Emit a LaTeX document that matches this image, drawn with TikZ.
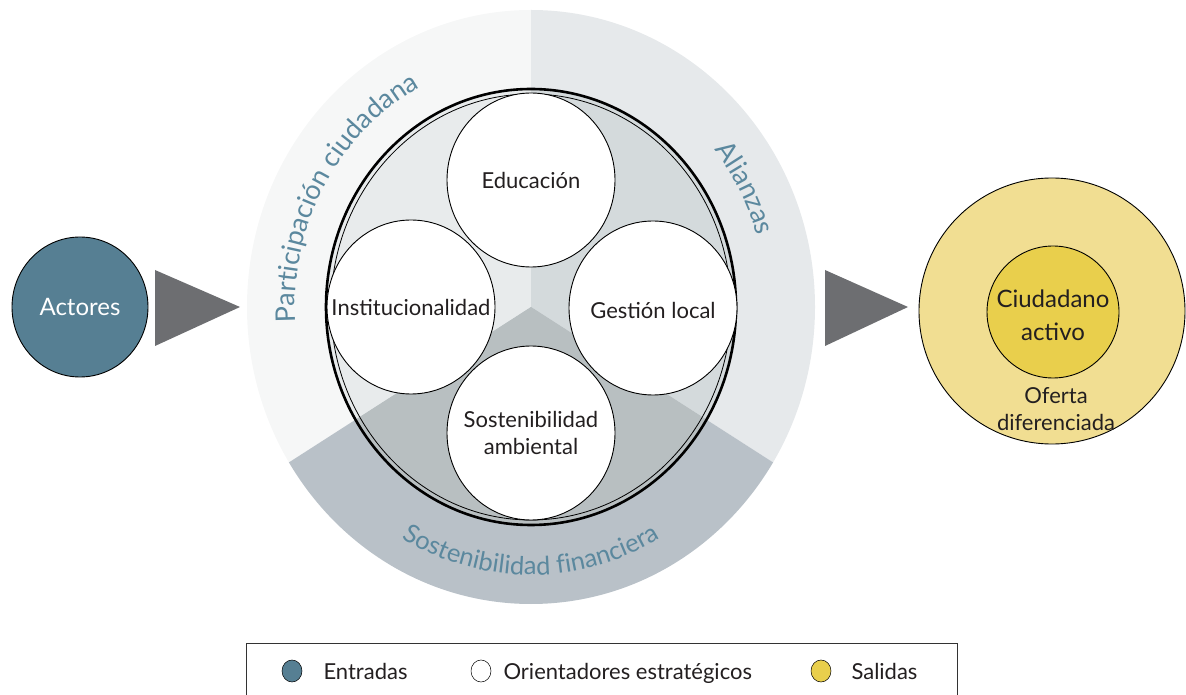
\documentclass[tikz,border=0pt]{standalone}
\usepackage{fontspec}
\setmainfont{Lato}
\usetikzlibrary{shapes.geometric,decorations.text}

\definecolor{actorblue}{HTML}{567F93}
\definecolor{outleft}{HTML}{F6F7F7}
\definecolor{outright}{HTML}{E6E9EB}
\definecolor{outbottom}{HTML}{B9C1C8}
\definecolor{inleft}{HTML}{E8EBEC}
\definecolor{inright}{HTML}{D4DADC}
\definecolor{inbottom}{HTML}{B8BFC1}
\definecolor{arrowgray}{HTML}{6D6E71}
\definecolor{ofertayellow}{HTML}{F1DE92}
\definecolor{ciudyellow}{HTML}{E9CF4C}
\definecolor{ringtext}{HTML}{5B889E}
\definecolor{labeltext}{HTML}{231F20}

\newcommand\diagfont{\fontsize{22}{27}\selectfont}
\newcommand\bigfont{\fontsize{24}{33}\selectfont}
\newcommand\arcfont{\fontsize{27}{30}\selectfont}
\newcommand\arcfontb{\fontsize{25.5}{30}\selectfont}

\tikzset{
  orient/.style={ellipse, draw=black, line width=0.9pt, fill=white, inner sep=0pt,
    minimum width=168, minimum height=174},
  orienttext/.style={align=center, text=labeltext, font=\diagfont, inner sep=0pt},
  legdot/.style={ellipse, draw=black, line width=0.5pt, minimum width=20, minimum height=22, inner sep=0pt},
  legtext/.style={anchor=base west, text=labeltext, font=\diagfont},
  pointer/.style={fill=arrowgray},
  ringlabel/.style={decorate, decoration={text along path, text align=center, text color=ringtext}}
}

\begin{document}
\begin{tikzpicture}[x=1pt,y=1pt]
\useasboundingbox (0,0) rectangle (1186,694); %same frame as the 1186x694 picture

\coordinate (hub) at (531,387);

%Shape: Outer ring, three sectors
\begin{scope}
\clip (hub) ellipse [x radius=284, y radius=297];
\fill [outleft]   (hub) -- +(90:600) -- +(150:600) -- +(212.7:600) -- cycle;
\fill [outright]  (hub) -- +(90:600) -- +(30:600) -- +(327.3:600) -- cycle;
\fill [outbottom] (hub) -- +(212.7:600) -- +(270:600) -- +(327.3:600) -- cycle;
\end{scope}

%Shape: Inner disc, three sectors
\begin{scope}
\clip (hub) ellipse [x radius=205, y radius=218];
\fill [inleft]   (hub) -- +(90:600) -- +(150:600) -- +(212.7:600) -- cycle;
\fill [inright]  (hub) -- +(90:600) -- +(30:600) -- +(327.3:600) -- cycle;
\fill [inbottom] (hub) -- +(212.7:600) -- +(270:600) -- +(327.3:600) -- cycle;
\end{scope}

%Shape: Inner border, thick and thin
\draw [line width=2.6pt] (hub) ellipse [x radius=205, y radius=218];
\draw [line width=0.8pt] (hub) ellipse [x radius=200, y radius=213];

%Shape: Orientadores
\node [orient] (educacion) at (531,514) {};
\node [orient] (institucion) at (411,387) {};
\node [orient] (gestion) at (653,386) {};
\node [orient] (ambiental) at (531,261) {};
% Text Node
\node [orienttext] (educaciontext) at (educacion.center) {Educación};
\node [orienttext] (instituciontext) at (institucion.center) {Institucionalidad};
\node [orienttext] (gestiontext) at ([yshift=-2]gestion.center) {Gestión local};
\node [orienttext] (ambientaltext) at (ambiental.center) {Sostenibilidad\\ambiental};

% Curved Text
\path [ringlabel, decoration={text={|\arcfont|Participación ciudadana}}]
  (hub) ++(196:236 and 249) arc [start angle=196, end angle=105, x radius=236, y radius=249];
\path [ringlabel, decoration={text={|\arcfont|Alianzas}}]
  (hub) ++(52:236 and 249) arc [start angle=52, end angle=4, x radius=236, y radius=249];
\path [ringlabel, decoration={text={|\arcfontb|Sostenibilidad financiera}}]
  (hub) ++(226:256 and 268) arc [start angle=226, end angle=314, x radius=256, y radius=268];

%Shape: Entradas
\node [ellipse, draw=black, line width=0.9pt, fill=actorblue, minimum width=136, minimum height=140,
  inner sep=0pt, text=white, font=\bigfont] (actores) at (80,387) {Actores};

%Shape: Triangles
\fill [pointer] (155,424) -- (240,387) -- (155,348) -- cycle;
\fill [pointer] (825,424) -- (908,387) -- (825,348) -- cycle;

%Shape: Salidas
\node [circle, draw=black, line width=0.9pt, fill=ofertayellow, minimum size=266, inner sep=0pt] (oferta) at (1052,383) {};
\node [circle, draw=black, line width=0.9pt, fill=ciudyellow, minimum size=132, inner sep=0pt] (ciudadano) at (1053,382) {};
% Text Node
\node [orienttext, font=\bigfont] (ciudadanotext) at ([yshift=-3]ciudadano.center) {Ciudadano\\activo};
\node [orienttext] (ofertatext) at (1056,285) {Oferta\\diferenciada};

%Legend
\draw [line width=0.8pt, draw=black!80] (246,-10) rectangle (957,51);
\node [legdot, fill=actorblue] (dotin) at (292,23) {};
\node [legtext] (legin) at (320,15) {Entradas};
\node [legdot, fill=white] (dotorient) at (481,23) {};
\node [legtext] (legorient) at (500,15) {Orientadores estratégicos};
\node [legdot, fill=ciudyellow] (dotout) at (821,23) {};
\node [legtext] (legout) at (848,15) {Salidas};

\end{tikzpicture}
\end{document}
